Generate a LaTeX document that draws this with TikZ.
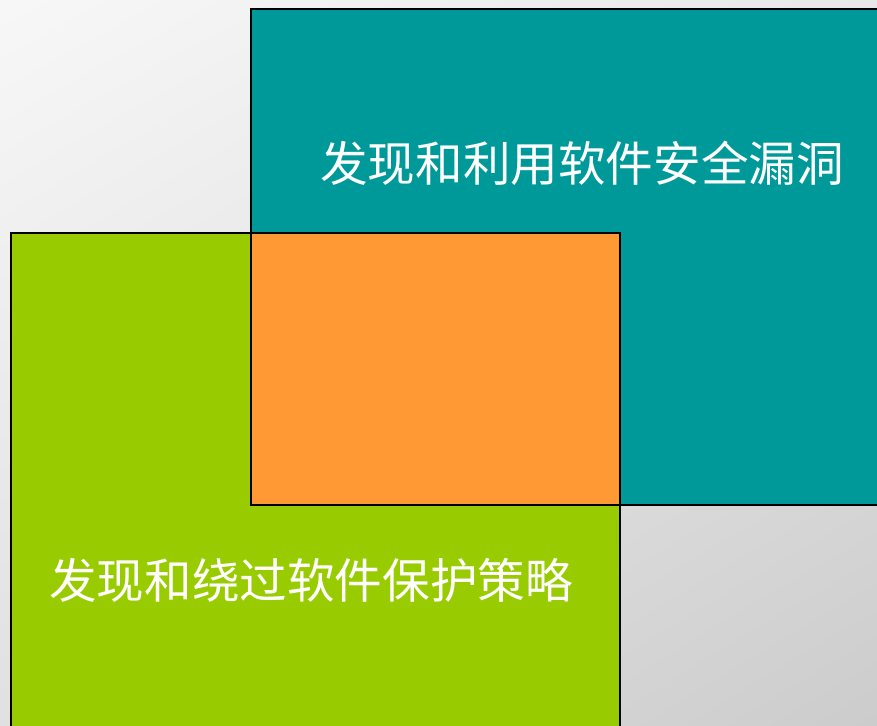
\documentclass[tikz,border=0pt]{standalone}
\usepackage{fontspec}
\usetikzlibrary{shadings}
\newfontfamily\cjk{Noto Sans CJK SC}
\definecolor{teal1}{HTML}{009999}
\definecolor{green1}{HTML}{99CC00}
\definecolor{orange1}{HTML}{FF9933}
\begin{document}
\begin{tikzpicture}[x=1pt,y=1pt,
  frame/.style={draw=black,line width=1.6pt},
  lbl/.style={text=white,font=\cjk\fontsize{47.6}{57}\selectfont,inner sep=0pt}]
\useasboundingbox (0,0) rectangle (877,725);
\clip (0,0) rectangle (877,725);
\shade[upper left=white!97!black,upper right=white!91!black,lower left=white!88!black,lower right=white!80!black] (0,0) rectangle (877,725);
\fill[teal1] (251,716) rectangle (890,220);
\fill[green1] (11,492) rectangle (620,-10);
\fill[orange1] (251,492) rectangle (620,220);
\draw[frame] (890,716) -- (251,716) -- (251,220) -- (890,220);
\draw[frame] (11,-10) -- (11,492) -- (620,492) -- (620,-10);
\node[lbl] (t1) at (582,562) {发现和利用软件安全漏洞};
\node[lbl] (t2) at (311,145) {发现和绕过软件保护策略};
\end{tikzpicture}
\end{document}
